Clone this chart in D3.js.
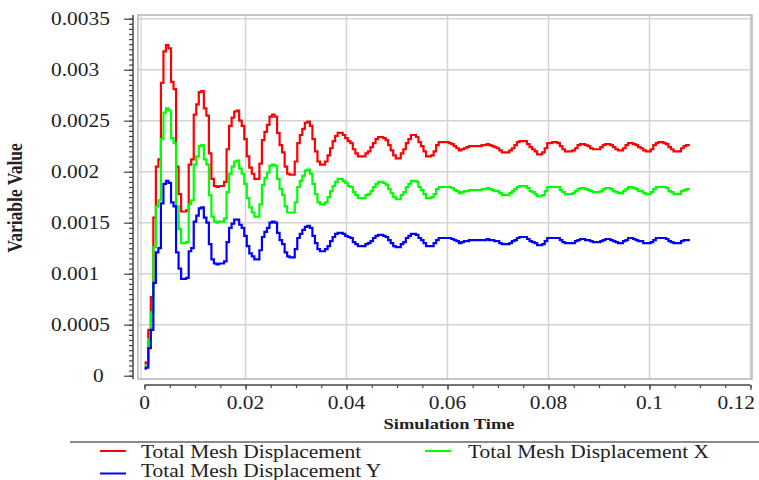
<!DOCTYPE html>
<html>
<head>
<meta charset="utf-8">
<script src="https://cdn.jsdelivr.net/npm/d3@7/dist/d3.min.js"></script>
<style>
  html, body { margin: 0; padding: 0; background: #fff; }
  svg { display: block; }
  text { font-family: "Liberation Serif", "Times New Roman", serif; fill: #222; }
</style>
</head>
<body>
<svg id="chart" width="759" height="480"></svg>
<script>
// Mesh displacement monitor, sampled every 0.0005 s of simulation time
const timeStep = 0.0005;

const totalDisp = [
  0.00012, 0.00013, 0.00045, 0.00077, 0.00155, 0.00205, 0.00212, 0.00287, 0.00318, 0.00324,
  0.00321, 0.00288, 0.00281, 0.00205, 0.00178, 0.00161, 0.00161, 0.00162, 0.00207, 0.00212,
  0.00256, 0.00266, 0.00278, 0.00279, 0.00262, 0.00255, 0.00218, 0.00193, 0.00186, 0.00185,
  0.00186, 0.00186, 0.00190, 0.00222, 0.00245, 0.00253, 0.00259, 0.00260, 0.00250, 0.00245,
  0.00232, 0.00215, 0.00204, 0.00198, 0.00193, 0.00193, 0.00208, 0.00231, 0.00239, 0.00246,
  0.00254, 0.00256, 0.00254, 0.00238, 0.00226, 0.00219, 0.00205, 0.00198, 0.00197, 0.00197,
  0.00210, 0.00228, 0.00236, 0.00242, 0.00248, 0.00249, 0.00245, 0.00232, 0.00220, 0.00210,
  0.00207, 0.00207, 0.00210, 0.00216, 0.00223, 0.00230, 0.00235, 0.00238, 0.00238, 0.00236,
  0.00233, 0.00230, 0.00228, 0.00222, 0.00218, 0.00215, 0.00215, 0.00215, 0.00218, 0.00220,
  0.00224, 0.00228, 0.00232, 0.00234, 0.00234, 0.00233, 0.00231, 0.00226, 0.00221, 0.00216,
  0.00213, 0.00213, 0.00218, 0.00222, 0.00228, 0.00232, 0.00236, 0.00236, 0.00234, 0.00229,
  0.00225, 0.00220, 0.00215, 0.00215, 0.00216, 0.00220, 0.00226, 0.00229, 0.00229, 0.00229,
  0.00229, 0.00228, 0.00227, 0.00225, 0.00223, 0.00221, 0.00222, 0.00223, 0.00224, 0.00225,
  0.00225, 0.00225, 0.00225, 0.00225, 0.00226, 0.00226, 0.00227, 0.00226, 0.00225, 0.00224,
  0.00223, 0.00221, 0.00219, 0.00219, 0.00219, 0.00221, 0.00223, 0.00226, 0.00229, 0.00230,
  0.00230, 0.00230, 0.00227, 0.00224, 0.00222, 0.00220, 0.00217, 0.00217, 0.00219, 0.00223,
  0.00228, 0.00228, 0.00229, 0.00229, 0.00228, 0.00225, 0.00222, 0.00220, 0.00220, 0.00220,
  0.00221, 0.00223, 0.00226, 0.00227, 0.00227, 0.00226, 0.00225, 0.00223, 0.00222, 0.00222,
  0.00222, 0.00224, 0.00226, 0.00227, 0.00227, 0.00226, 0.00224, 0.00222, 0.00221, 0.00221,
  0.00223, 0.00226, 0.00228, 0.00228, 0.00227, 0.00226, 0.00224, 0.00223, 0.00221, 0.00220,
  0.00220, 0.00222, 0.00226, 0.00228, 0.00229, 0.00229, 0.00228, 0.00227, 0.00224, 0.00222,
  0.00220, 0.00220, 0.00220, 0.00223, 0.00225, 0.00226, 0.00226
];

const dispX = [
  0.00010, 0.00010, 0.00036, 0.00062, 0.00126, 0.00166, 0.00172, 0.00232, 0.00258, 0.00262,
  0.00260, 0.00233, 0.00228, 0.00166, 0.00144, 0.00130, 0.00130, 0.00131, 0.00168, 0.00172,
  0.00207, 0.00215, 0.00225, 0.00226, 0.00212, 0.00207, 0.00177, 0.00156, 0.00151, 0.00150,
  0.00151, 0.00151, 0.00154, 0.00180, 0.00198, 0.00205, 0.00210, 0.00211, 0.00203, 0.00198,
  0.00188, 0.00174, 0.00165, 0.00160, 0.00156, 0.00156, 0.00168, 0.00187, 0.00194, 0.00199,
  0.00206, 0.00207, 0.00206, 0.00193, 0.00183, 0.00177, 0.00166, 0.00160, 0.00160, 0.00160,
  0.00170, 0.00185, 0.00191, 0.00196, 0.00201, 0.00202, 0.00198, 0.00188, 0.00178, 0.00170,
  0.00168, 0.00168, 0.00170, 0.00175, 0.00181, 0.00186, 0.00190, 0.00193, 0.00193, 0.00191,
  0.00189, 0.00186, 0.00185, 0.00180, 0.00177, 0.00174, 0.00174, 0.00174, 0.00177, 0.00178,
  0.00181, 0.00185, 0.00188, 0.00190, 0.00190, 0.00189, 0.00187, 0.00183, 0.00179, 0.00175,
  0.00173, 0.00173, 0.00177, 0.00180, 0.00185, 0.00188, 0.00191, 0.00191, 0.00190, 0.00185,
  0.00182, 0.00178, 0.00174, 0.00174, 0.00175, 0.00178, 0.00183, 0.00185, 0.00185, 0.00185,
  0.00185, 0.00185, 0.00184, 0.00182, 0.00181, 0.00179, 0.00180, 0.00181, 0.00181, 0.00182,
  0.00182, 0.00182, 0.00182, 0.00182, 0.00183, 0.00183, 0.00184, 0.00183, 0.00182, 0.00181,
  0.00181, 0.00179, 0.00177, 0.00177, 0.00177, 0.00179, 0.00181, 0.00183, 0.00185, 0.00186,
  0.00186, 0.00186, 0.00184, 0.00181, 0.00180, 0.00178, 0.00176, 0.00176, 0.00177, 0.00181,
  0.00185, 0.00185, 0.00185, 0.00185, 0.00185, 0.00182, 0.00180, 0.00178, 0.00178, 0.00178,
  0.00179, 0.00181, 0.00183, 0.00184, 0.00184, 0.00183, 0.00182, 0.00181, 0.00180, 0.00180,
  0.00180, 0.00181, 0.00183, 0.00184, 0.00184, 0.00183, 0.00181, 0.00180, 0.00179, 0.00179,
  0.00181, 0.00183, 0.00185, 0.00185, 0.00184, 0.00183, 0.00181, 0.00181, 0.00179, 0.00178,
  0.00178, 0.00180, 0.00183, 0.00185, 0.00185, 0.00185, 0.00185, 0.00184, 0.00181, 0.00180,
  0.00178, 0.00178, 0.00178, 0.00181, 0.00182, 0.00183, 0.00183
];

const dispY = [
  0.00007, 0.00008, 0.00027, 0.00045, 0.00091, 0.00121, 0.00125, 0.00169, 0.00188, 0.00191,
  0.00189, 0.00170, 0.00166, 0.00121, 0.00105, 0.00095, 0.00095, 0.00096, 0.00122, 0.00125,
  0.00151, 0.00157, 0.00164, 0.00165, 0.00155, 0.00150, 0.00129, 0.00114, 0.00110, 0.00109,
  0.00110, 0.00110, 0.00112, 0.00131, 0.00145, 0.00149, 0.00153, 0.00153, 0.00148, 0.00145,
  0.00137, 0.00127, 0.00120, 0.00117, 0.00114, 0.00114, 0.00123, 0.00136, 0.00141, 0.00145,
  0.00150, 0.00151, 0.00150, 0.00140, 0.00133, 0.00129, 0.00121, 0.00117, 0.00116, 0.00116,
  0.00124, 0.00135, 0.00139, 0.00143, 0.00146, 0.00147, 0.00145, 0.00137, 0.00130, 0.00124,
  0.00122, 0.00122, 0.00124, 0.00127, 0.00132, 0.00136, 0.00139, 0.00140, 0.00140, 0.00139,
  0.00137, 0.00136, 0.00135, 0.00131, 0.00129, 0.00127, 0.00127, 0.00127, 0.00129, 0.00130,
  0.00132, 0.00135, 0.00137, 0.00138, 0.00138, 0.00137, 0.00136, 0.00133, 0.00130, 0.00127,
  0.00126, 0.00126, 0.00129, 0.00131, 0.00135, 0.00137, 0.00139, 0.00139, 0.00138, 0.00135,
  0.00133, 0.00130, 0.00127, 0.00127, 0.00127, 0.00130, 0.00133, 0.00135, 0.00135, 0.00135,
  0.00135, 0.00135, 0.00134, 0.00133, 0.00132, 0.00130, 0.00131, 0.00132, 0.00132, 0.00133,
  0.00133, 0.00133, 0.00133, 0.00133, 0.00133, 0.00133, 0.00134, 0.00133, 0.00133, 0.00132,
  0.00132, 0.00130, 0.00129, 0.00129, 0.00129, 0.00130, 0.00132, 0.00133, 0.00135, 0.00136,
  0.00136, 0.00136, 0.00134, 0.00132, 0.00131, 0.00130, 0.00128, 0.00128, 0.00129, 0.00132,
  0.00135, 0.00135, 0.00135, 0.00135, 0.00135, 0.00133, 0.00131, 0.00130, 0.00130, 0.00130,
  0.00130, 0.00132, 0.00133, 0.00134, 0.00134, 0.00133, 0.00133, 0.00132, 0.00131, 0.00131,
  0.00131, 0.00132, 0.00133, 0.00134, 0.00134, 0.00133, 0.00132, 0.00131, 0.00130, 0.00130,
  0.00132, 0.00133, 0.00135, 0.00135, 0.00134, 0.00133, 0.00132, 0.00132, 0.00130, 0.00130,
  0.00130, 0.00131, 0.00133, 0.00135, 0.00135, 0.00135, 0.00135, 0.00134, 0.00132, 0.00131,
  0.00130, 0.00130, 0.00130, 0.00132, 0.00133, 0.00133, 0.00133
];

const seriesNames = ["Total Mesh Displacement", "Total Mesh Displacement X", "Total Mesh Displacement Y"];
const seriesColors = ["#ff0000", "#00ff00", "#0000ff"];

const xTicks = [0, 0.02, 0.04, 0.06, 0.08, 0.1, 0.12];
const xTickLabels = ["0", "0.02", "0.04", "0.06", "0.08", "0.1", "0.12"];
const yTicks = [0, 0.0005, 0.001, 0.0015, 0.002, 0.0025, 0.003, 0.0035];
const yTickLabels = ["0", "0.0005", "0.001", "0.0015", "0.002", "0.0025", "0.003", "0.0035"];

const svg = d3.select("#chart");

const x = d3.scaleLinear().domain([0, 0.12]).range([144.5, 750.5]);
const y = d3.scaleLinear().domain([0, 0.0035]).range([375.7, 18.7]);

const plot = { left: 138, right: 752, top: 15, bottom: 379 };
const textStretch = 1.19;

// gridlines
svg.append("g").selectAll("line.vg").data(xTicks.slice(1)).join("line")
  .attr("x1", d => x(d)).attr("x2", d => x(d))
  .attr("y1", plot.top).attr("y2", plot.bottom)
  .attr("stroke", "#d4d4d4").attr("stroke-width", 1.5);
svg.append("g").selectAll("line.hg").data(yTicks.slice(1)).join("line")
  .attr("x1", plot.left).attr("x2", plot.right)
  .attr("y1", d => y(d)).attr("y2", d => y(d))
  .attr("stroke", "#d4d4d4").attr("stroke-width", 1.5);

// plot frame
svg.append("rect")
  .attr("x", plot.left).attr("y", plot.top)
  .attr("width", plot.right - plot.left).attr("height", plot.bottom - plot.top)
  .attr("fill", "none").attr("stroke", "#b4b4b4").attr("stroke-width", 1.5);
svg.append("line")
  .attr("x1", plot.left + 3).attr("x2", plot.left + 3)
  .attr("y1", plot.top).attr("y2", plot.bottom)
  .attr("stroke", "#c8c8c8").attr("stroke-width", 1);

// series
svg.append("defs").append("clipPath").attr("id", "clip")
  .append("rect").attr("x", plot.left).attr("y", plot.top)
  .attr("width", plot.right - plot.left).attr("height", plot.bottom - plot.top);

const allSeries = [totalDisp, dispX, dispY];
const line = d3.line()
  .x((d, i) => x(i * timeStep))
  .y(d => y(d))
  .curve(d3.curveStep);

svg.append("g").attr("clip-path", "url(#clip)")
  .selectAll("path").data(allSeries).join("path")
  .attr("d", line)
  .attr("fill", "none")
  .attr("stroke", (d, i) => seriesColors[i])
  .attr("stroke-width", 2.2)
  .attr("stroke-linejoin", "miter");

// y axis
const yMinor = d3.range(0, 71).map(k => k * 0.00005);
const yAxisX = 133;
const gyMinor = svg.append("g").attr("transform", `translate(${yAxisX},0)`)
  .call(d3.axisLeft(y).tickValues(yMinor).tickSize(4).tickFormat(""));
const gy = svg.append("g").attr("transform", `translate(${yAxisX},0)`)
  .call(d3.axisLeft(y).tickValues(yTicks).tickSize(9).tickFormat(""));
[gyMinor, gy].forEach(g => {
  g.select(".domain").remove();
  g.selectAll(".tick line").attr("stroke", "#444").attr("stroke-width", 1.2);
});
svg.append("line")
  .attr("x1", yAxisX).attr("x2", yAxisX)
  .attr("y1", plot.top).attr("y2", plot.bottom)
  .attr("stroke", "#444").attr("stroke-width", 1.5);

svg.append("g").selectAll("text").data(yTicks).join("text")
  .attr("transform", (d, i) => `translate(${d === 0 ? 93 : 51},${y(d) + 6}) scale(${textStretch},1)`)
  .attr("font-size", 18)
  .text((d, i) => yTickLabels[i]);

// x axis
const xAxisY = 385;
const xMinor = d3.range(0, 25).map(k => k * 0.005);
const gxMinor = svg.append("g").attr("transform", `translate(0,${xAxisY})`)
  .call(d3.axisBottom(x).tickValues(xMinor).tickSize(3).tickFormat(""));
const gx = svg.append("g").attr("transform", `translate(0,${xAxisY})`)
  .call(d3.axisBottom(x).tickValues(xTicks).tickSize(5).tickFormat(""));
[gxMinor, gx].forEach(g => {
  g.select(".domain").remove();
  g.selectAll(".tick line").attr("stroke", "#444").attr("stroke-width", 1.2);
});
svg.append("line")
  .attr("x1", x(0)).attr("x2", x(0.12))
  .attr("y1", xAxisY).attr("y2", xAxisY)
  .attr("stroke", "#444").attr("stroke-width", 1.5);

svg.append("g").selectAll("text").data(xTicks).join("text")
  .attr("transform", (d, i) => {
    const last = i === xTicks.length - 1;
    return `translate(${last ? 755 : x(d)},409) scale(${textStretch},1)`;
  })
  .attr("text-anchor", (d, i) => i === xTicks.length - 1 ? "end" : "middle")
  .attr("font-size", 18)
  .text((d, i) => xTickLabels[i]);

// axis titles
svg.append("text")
  .attr("transform", `translate(449,429) scale(${textStretch},1)`)
  .attr("text-anchor", "middle")
  .attr("font-size", 15.5).attr("font-weight", "bold")
  .text("Simulation Time");

svg.append("text")
  .attr("transform", `translate(22,198) scale(${textStretch},1) rotate(-90)`)
  .attr("text-anchor", "middle")
  .attr("font-size", 17.5).attr("font-weight", "bold")
  .text("Variable Value");

// legend
svg.append("line")
  .attr("x1", 70).attr("x2", 759).attr("y1", 442).attr("y2", 442)
  .attr("stroke", "#8a8a8a").attr("stroke-width", 2);

const legendPos = [
  { lx: 100, tx: 141, ly: 451, ty: 458 },
  { lx: 425, tx: 468, ly: 451, ty: 458 },
  { lx: 100, tx: 141, ly: 473.5, ty: 477 }
];
const legend = svg.append("g").selectAll("g").data(seriesNames).join("g");
legend.append("line")
  .attr("x1", (d, i) => legendPos[i].lx).attr("x2", (d, i) => legendPos[i].lx + 26)
  .attr("y1", (d, i) => legendPos[i].ly).attr("y2", (d, i) => legendPos[i].ly)
  .attr("stroke", (d, i) => seriesColors[i]).attr("stroke-width", 2);
legend.append("text")
  .attr("transform", (d, i) => `translate(${legendPos[i].tx},${legendPos[i].ty}) scale(1.13,1)`)
  .attr("font-size", 19)
  .text(d => d);
</script>
</body>
</html>
